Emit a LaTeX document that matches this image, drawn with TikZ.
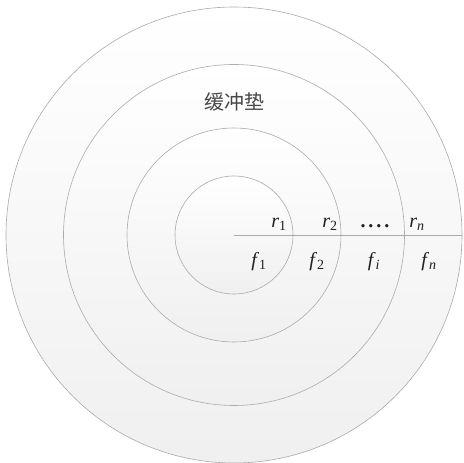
\documentclass[tikz,border=0pt]{standalone}
\usepackage{fontspec}
\setmainfont{Liberation Serif}
\newfontfamily\cjk{Noto Sans CJK SC}
\usepackage{tikz}
\tikzset{
  ring/.style={draw=black!33,line width=0.6pt,top color=white,bottom color=black!6},
  lab/.style={anchor=base,inner sep=0pt,text=black!88,font=\fontsize{20}{20}\selectfont}
}

\begin{document}
\begin{tikzpicture}[line cap=round,line join=round,x=1pt,y=1pt]
        \useasboundingbox (-234,-228) rectangle (229,235);
        \coordinate (O) at (0,0);
        \coordinate (E) at (228,0);
        \draw [ring] (O) circle (228);
        \draw [ring] (O) circle (170.5);
        \draw [ring] (O) circle (107);
        \draw [ring] (O) circle (59);
        \draw [draw=black!33,line width=0.6pt] (O) -- (E);
        \node [lab,text=black!72,font=\cjk\fontsize{20}{20}\selectfont] (pad) at (0,125) {缓冲垫};
        \node [lab] (r1) at (45,8) {\textit{r}\textsubscript{1}};
        \node [lab] (r2) at (96,8) {\textit{r}\textsubscript{2}};
        \node [lab] (dots) at (141,8) {\textbf{.\hspace{3pt}.\hspace{3pt}.\hspace{3pt}.}};
        \node [lab] (rn) at (183,8) {\textit{r}\textsubscript{\textit{n}}};
        \node [lab] (f1) at (25,-31) {\textit{f}\textsubscript{1}};
        \node [lab] (f2) at (83,-31) {\textit{f}\textsubscript{2}};
        \node [lab] (fi) at (140,-31) {\textit{f}\textsubscript{\textit{i}}};
        \node [lab] (fn) at (195,-31) {\textit{f}\textsubscript{\textit{n}}};
\end{tikzpicture}
\end{document}
